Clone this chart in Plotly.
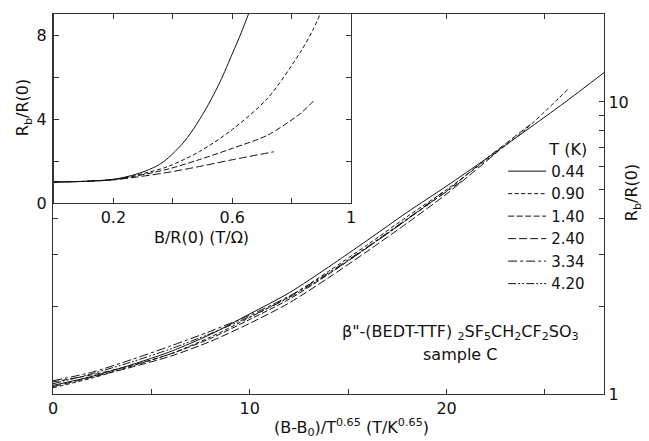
import plotly.graph_objects as go

# ---- main panel: scaled magnetoresistance, one curve per temperature ----
temps = ["0.44", "0.90", "1.40", "2.40", "3.34", "4.20"]

x_044 = [0, 2, 4, 6, 8, 10, 12, 14, 16, 18, 20, 22, 24, 26, 28]
y_044 = [1.07, 1.15, 1.26, 1.40, 1.60, 1.88, 2.22, 2.72, 3.37, 4.19, 5.15, 6.38, 7.95, 9.95, 12.6]

x_090 = [0, 2, 4, 6, 8, 10, 12, 14, 16, 18, 20, 22, 24, 26.2]
y_090 = [1.05, 1.135, 1.245, 1.374, 1.567, 1.828, 2.153, 2.63, 3.25, 4.05, 5.01, 6.31, 8.04, 11.1]

x_140 = [0, 2, 4, 6, 8, 10, 12, 14, 16, 18, 20, 22, 24.3]
y_140 = [1.10, 1.164, 1.253, 1.374, 1.549, 1.80, 2.11, 2.57, 3.18, 3.96, 4.95, 6.38, 8.41]

x_240 = [0, 2, 4, 6, 8, 10, 12, 14, 16, 18, 20, 22.6]
y_240 = [1.06, 1.143, 1.236, 1.349, 1.514, 1.746, 2.05, 2.5, 3.09, 3.85, 4.84, 6.76]

x_334 = [0, 2, 4, 6, 8, 10, 12, 14, 16, 18, 20.8]
y_334 = [1.11, 1.189, 1.312, 1.462, 1.64, 1.862, 2.163, 2.6, 3.2, 3.98, 5.37]

x_420 = [0, 2, 4, 6, 8, 10, 12, 14, 16, 18, 19.8]
y_420 = [1.084, 1.175, 1.288, 1.429, 1.61, 1.84, 2.138, 2.58, 3.18, 3.96, 4.9]

main_x = [x_044, x_090, x_140, x_240, x_334, x_420]
main_y = [y_044, y_090, y_140, y_240, y_334, y_420]

# ---- inset: unscaled R_b/R(0) versus B/R(0) ----
inset_temps = ["0.44", "0.90", "1.40", "2.40"]
ix_044 = [0, 0.1, 0.2, 0.25, 0.3, 0.34, 0.37, 0.4, 0.44, 0.48, 0.52, 0.56, 0.6, 0.63, 0.66]
iy_044 = [1.0, 1.03, 1.13, 1.27, 1.48, 1.72, 1.98, 2.35, 2.95, 3.75, 4.7, 5.8, 7.1, 8.1, 9.2]
ix_090 = [0, 0.1, 0.2, 0.27, 0.38, 0.49, 0.6, 0.72, 0.83, 0.87, 0.896]
iy_090 = [1.0, 1.03, 1.12, 1.3, 1.72, 2.45, 3.5, 5.0, 7.2, 8.2, 9.0]
ix_140 = [0, 0.1, 0.2, 0.27, 0.38, 0.49, 0.6, 0.72, 0.83, 0.879]
iy_140 = [1.0, 1.03, 1.11, 1.27, 1.6, 2.07, 2.6, 3.24, 4.27, 4.94]
ix_240 = [0, 0.1, 0.2, 0.27, 0.38, 0.49, 0.6, 0.74]
iy_240 = [1.0, 1.03, 1.1, 1.22, 1.45, 1.74, 2.06, 2.44]

inset_x = [ix_044, ix_090, ix_140, ix_240]
inset_y = [iy_044, iy_090, iy_140, iy_240]

# axis ticks
main_xticks = [0, 5, 10, 15, 20, 25]
main_xticklabels = ["0", "", "10", "", "20", ""]
main_yticks = [1, 2, 3, 4, 5, 6, 7, 8, 9, 10]
main_yticklabels = ["1", "", "", "", "", "", "", "", "", "10"]
inset_xticks = [0.2, 0.4, 0.6, 0.8, 1.0]
inset_xticklabels = ["0.2", "", "0.6", "", "1"]
inset_yticks = [0, 2, 4, 6, 8]
inset_yticklabels = ["0", "", "4", "", "8"]

dashes = ["solid", "4px,2.5px", "6px,2.5px", "8px,3px", "9px,3px,3px,3px", "8px,2px,2px,2px,2px,2px"]

FONT = "DejaVu Sans"
FS = 16
INK = "#111111"
AX = "#333333"

fig = go.Figure()

for t, xs, ys, d in zip(temps, main_x, main_y, dashes):
    fig.add_trace(go.Scatter(
        x=xs, y=ys, mode="lines", name=t,
        line=dict(color=INK, width=1, dash=d, shape="spline", smoothing=0.8),
        xaxis="x", yaxis="y",
    ))

for t, xs, ys, d in zip(inset_temps, inset_x, inset_y, dashes):
    fig.add_trace(go.Scatter(
        x=xs, y=ys, mode="lines", name=t, showlegend=False,
        line=dict(color=INK, width=1, dash=d, shape="spline", smoothing=0.8),
        xaxis="x2", yaxis="y2",
    ))

axis_common = dict(
    showline=True, linecolor=AX, linewidth=1.4, mirror="ticks",
    ticks="inside", ticklen=5, tickwidth=1, tickcolor=AX,
    showgrid=False, zeroline=False,
    tickfont=dict(family=FONT, size=FS, color=INK),
)

fig.update_layout(
    width=649, height=441,
    margin=dict(l=53, r=45, t=14, b=47),
    paper_bgcolor="white", plot_bgcolor="white",
    font=dict(family=FONT, size=FS, color=INK),
    xaxis=dict(axis_common, domain=[0, 1], range=[0, 28],
               tickmode="array", tickvals=main_xticks, ticktext=main_xticklabels),
    yaxis=dict(axis_common, domain=[0, 1], type="log", range=[0, 1.301],
               side="right", anchor="x",
               tickmode="array", tickvals=main_yticks, ticktext=main_yticklabels),
    xaxis2=dict(axis_common, domain=[0.0018, 0.541], range=[0, 1], anchor="y2",
                tickmode="array", tickvals=inset_xticks, ticktext=inset_xticklabels),
    yaxis2=dict(axis_common, domain=[0.5026, 1], range=[0, 9], anchor="x2",
                tickmode="array", tickvals=inset_yticks, ticktext=inset_yticklabels,
                ticklabelstandoff=3),
    legend=dict(
        x=0.817, y=0.684, xanchor="left", yanchor="top",
        bgcolor="rgba(0,0,0,0)", borderwidth=0,
        font=dict(family=FONT, size=15, color=INK),
        title=dict(text="T (K)", side="top right", font=dict(family=FONT, size=16, color=INK)),
        itemwidth=38, tracegroupgap=0,
    ),
    showlegend=True,
)

fig.add_annotation(
    text="(B-B<sub>0</sub>)/T<sup>0.65</sup> (T/K<sup>0.65</sup>)",
    xref="paper", yref="paper", x=0.541, y=-0.087, showarrow=False,
    xanchor="center", yanchor="middle", font=dict(family=FONT, size=FS, color=INK),
)
fig.add_annotation(
    text="R<sub>b</sub>/R(0)", textangle=-90,
    xref="paper", yref="paper", x=1.053, y=0.529, showarrow=False,
    xanchor="center", yanchor="middle", font=dict(family=FONT, size=FS, color=INK),
)
fig.add_annotation(
    text="B/R(0) (T/Ω)",
    xref="paper", yref="paper", x=0.270, y=0.413, showarrow=False,
    xanchor="center", yanchor="middle", font=dict(family=FONT, size=FS, color=INK),
)
fig.add_annotation(
    text="R<sub>b</sub>/R(0)", textangle=-90,
    xref="paper", yref="paper", x=-0.052, y=0.753, showarrow=False,
    xanchor="center", yanchor="middle", font=dict(family=FONT, size=FS, color=INK),
)
fig.add_annotation(
    text="β\"-(BEDT-TTF) <sub>2</sub>SF<sub>5</sub>CH<sub>2</sub>CF<sub>2</sub>SO<sub>3</sub>",
    xref="paper", yref="paper", x=0.739, y=0.163, showarrow=False,
    xanchor="center", yanchor="middle", font=dict(family=FONT, size=FS, color=INK),
)
fig.add_annotation(
    text="sample C",
    xref="paper", yref="paper", x=0.739, y=0.103, showarrow=False,
    xanchor="center", yanchor="middle", font=dict(family=FONT, size=FS, color=INK),
)

fig.write_html("out.html")
